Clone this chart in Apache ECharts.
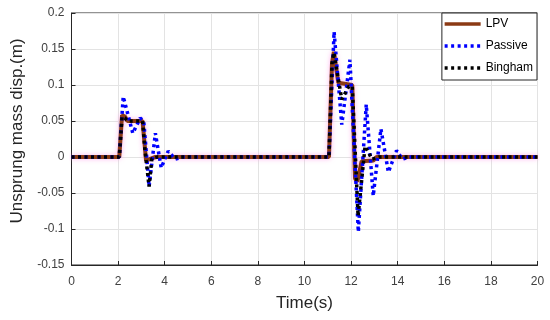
<!DOCTYPE html>
<html>
<head>
<meta charset="utf-8">
<script src="https://cdn.jsdelivr.net/npm/echarts@6/dist/echarts.min.js"></script>
<style>html,body{margin:0;padding:0;background:#fff}#c{width:550px;height:320px}</style>
</head>
<body>
<div id="c"></div>
<script>
var seriesNames = ['LPV', 'Passive', 'Bingham'];
var xTicks = [0, 2, 4, 6, 8, 10, 12, 14, 16, 18, 20];
var yTicks = [-0.15, -0.1, -0.05, 0, 0.05, 0.1, 0.15, 0.2];

var lpvTime = [0, 2.05, 2.17, 2.3, 2.4, 3.05, 3.2, 3.35, 3.6, 11.05, 11.18, 11.26, 11.45, 12.05, 12.17, 12.27, 12.45, 12.95, 13.1, 20];
var lpvDisp = [0, 0, 0.058, 0.056, 0.05, 0.05, -0.005, -0.003, 0, 0, 0.13, 0.146, 0.103, 0.1, -0.03, -0.034, -0.006, -0.005, 0, 0];

var passiveTime = [0, 2.05, 2.22, 2.35, 2.63, 2.95, 3.1, 3.33, 3.6, 3.85, 4.15, 4.45, 4.8, 11.05, 11.27, 11.6, 11.95, 12.31, 12.65, 12.95, 13.28, 13.6, 13.95, 14.2, 14.5, 20];
var passiveDisp = [0, 0, 0.084, 0.068, 0.033, 0.054, 0.05, -0.041, 0.033, -0.015, 0.008, -0.003, 0, 0, 0.174, 0.045, 0.135, -0.104, 0.073, -0.054, 0.039, -0.021, 0.009, -0.003, 0, 0];

var binghamTime = [0, 2.05, 2.17, 2.3, 2.4, 3.05, 3.15, 3.33, 3.45, 3.7, 11.05, 11.18, 11.26, 11.6, 11.9, 12.05, 12.3, 12.6, 12.9, 13.2, 20];
var binghamDisp = [0, 0, 0.056, 0.054, 0.05, 0.05, 0.01, -0.041, -0.002, 0, 0, 0.13, 0.145, 0.08, 0.098, 0.098, -0.082, 0.015, -0.003, 0, 0];

function pairs(t, v) { return t.map(function (x, i) { return [x, v[i]]; }); }

var textColor = '#262626';
var chart = echarts.init(document.getElementById('c'));
chart.setOption({
  animation: false,
  backgroundColor: '#fff',
  grid: { left: 71.5, right: 12.5, top: 13, bottom: 55, show: true, borderColor: '#262626', borderWidth: 1, containLabel: false },
  xAxis: {
    type: 'value', min: 0, max: 20, interval: 2,
    name: 'Time(s)', nameLocation: 'middle', nameGap: 30,
    nameTextStyle: { fontFamily: 'Liberation Sans', fontSize: 17, color: textColor },
    axisLine: { show: true, onZero: false, lineStyle: { color: '#262626' } },
    axisTick: { show: true, inside: true, length: 4, lineStyle: { color: '#262626' } },
    axisLabel: { fontFamily: 'Liberation Sans', fontSize: 12, color: '#404040', margin: 11,
      customValues: xTicks, formatter: function (v) { return String(v); } },
    splitLine: { show: true, lineStyle: { color: '#e3e3e3', width: 1 } }
  },
  yAxis: {
    type: 'value', min: -0.15, max: 0.2, interval: 0.05,
    name: 'Unsprung mass disp.(m)', nameLocation: 'middle', nameGap: 39,
    nameTextStyle: { fontFamily: 'Liberation Sans', fontSize: 17, color: textColor, padding: [0, 0, 0, 16] },
    axisLine: { show: true, onZero: false, lineStyle: { color: '#262626' } },
    axisTick: { show: true, inside: true, length: 4, lineStyle: { color: '#262626' } },
    axisLabel: { fontFamily: 'Liberation Sans', fontSize: 12, color: '#404040', margin: 7,
      formatter: function (v) { return String(+v.toFixed(2)); } },
    splitLine: { show: true, lineStyle: { color: '#e3e3e3', width: 1 } }
  },
  legend: {
    orient: 'vertical', right: 13, top: 13, padding: [5, 4, 6, 1],
    backgroundColor: '#fff', borderColor: '#262626', borderWidth: 1, borderRadius: 0,
    itemWidth: 36, itemHeight: 10, itemGap: 10,
    itemStyle: { opacity: 0 },
    lineStyle: { width: 3.5 },
    textStyle: { fontFamily: 'Liberation Sans', fontSize: 12, color: '#000' },
    data: seriesNames
  },
  series: [
    {
      name: seriesNames[0], type: 'line', symbol: 'none', z: 2,
      data: pairs(lpvTime, lpvDisp),
      lineStyle: { color: '#8b3a14', width: 4, shadowColor: 'rgba(255,150,230,0.7)', shadowBlur: 5 },
      itemStyle: { color: '#8b3a14' }
    },
    {
      name: seriesNames[1], type: 'line', symbol: 'none', z: 3,
      data: pairs(passiveTime, passiveDisp),
      lineStyle: { color: '#0000ff', width: 3.5, type: [3, 3.5] },
      itemStyle: { color: '#0000ff' }
    },
    {
      name: seriesNames[2], type: 'line', symbol: 'none', z: 4,
      data: pairs(binghamTime, binghamDisp),
      lineStyle: { color: '#000', width: 3.5, type: [3, 3.5] },
      itemStyle: { color: '#000' }
    }
  ]
});
</script>
</body>
</html>
